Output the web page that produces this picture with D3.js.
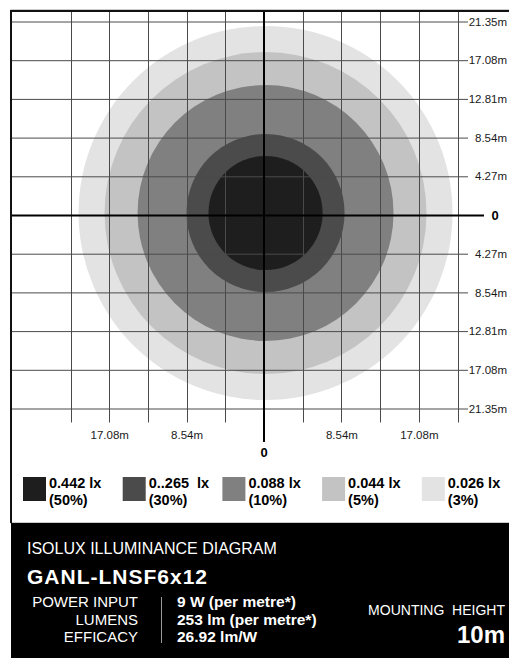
<!DOCTYPE html>
<html><head><meta charset="utf-8">
<script src="https://cdn.jsdelivr.net/npm/d3@7"></script>
<style>
html,body{margin:0;padding:0;background:#fff;}
svg{display:block;font-family:Arial,"Liberation Sans",Helvetica,sans-serif;}
</style></head>
<body>
<svg id="c" width="509" height="658"></svg>
<script>
// ---- data ----
const gridValues = [-21.35,-17.08,-12.81,-8.54,-4.27,0,4.27,8.54,12.81,17.08,21.35];
const yTickValues = [21.35,17.08,12.81,8.54,4.27,0,-4.27,-8.54,-12.81,-17.08,-21.35];
const yTickLabels = ["21.35m","17.08m","12.81m","8.54m","4.27m","0","4.27m","8.54m","12.81m","17.08m","21.35m"];
const xTickValues = [-17.08,-8.54,8.54,17.08];
const xTickLabels = ["17.08m","8.54m","8.54m","17.08m"];
const luxLabels = ["0.442 lx","0..265  lx","0.088 lx","0.044 lx","0.026 lx"];
const percentLabels = ["(50%)","(30%)","(10%)","(5%)","(3%)"];
const ringRadii = [6.3, 8.72, 14.12, 17.76, 20.63];   // metres
const ringColors = ["#1e1e1e","#4b4b4b","#808080","#c3c3c3","#e3e3e3"];
const ringCenter = [0.17, 0.22];
const title = "ISOLUX ILLUMINANCE DIAGRAM";
const model = "GANL-LNSF6x12";
const specNames = ["POWER INPUT","LUMENS","EFFICACY"];
const specValues = ["9 W (per metre*)","253 lm (per metre*)","26.92 lm/W"];
const mountLabel = "MOUNTING HEIGHT";
const mountValue = "10m";

// ---- drawing ----
const svg = d3.select("#c");
const x = d3.scaleLinear().domain([-21.35,21.35]).range([70.5,457.5]);
const y = d3.scaleLinear().domain([21.35,-21.35]).range([21.5,408.5]);
const frameL = 11, frameT = 10, panelT = 523;

// frame
svg.append("rect").attr("x",frameL).attr("y",frameT).attr("width",509-frameL+2).attr("height",panelT-frameT)
  .attr("fill","#fff").attr("stroke","#999").attr("stroke-width",1);

// rings (largest first)
const rings = ringRadii.map((r,i)=>({r, c:ringColors[i]})).reverse();
svg.append("g").selectAll("circle").data(rings).join("circle")
  .attr("cx", x(ringCenter[0])).attr("cy", y(ringCenter[1]))
  .attr("r", d => x(d.r) - x(0))
  .attr("fill", d => d.c);

// vertical grid lines
svg.append("g").selectAll("line").data(gridValues.filter(v=>v!==0)).join("line")
  .attr("x1",d=>Math.round(x(d))+0.5).attr("x2",d=>Math.round(x(d))+0.5)
  .attr("y1",frameT).attr("y2",422.5)
  .attr("stroke","#4a4a4a").attr("stroke-width",1);

// horizontal grid lines + right labels via axis
const yAxis = d3.axisRight(y).tickValues(yTickValues).tickSize(468-frameL)
  .tickFormat((d,i)=>yTickLabels[i]);
const gy = svg.append("g").attr("transform",`translate(${frameL},0)`).call(yAxis);
gy.select(".domain").remove();
gy.selectAll(".tick line").attr("stroke","#4a4a4a");
gy.selectAll(".tick text").attr("x",507-frameL).attr("text-anchor","end")
  .attr("font-size",11.5).attr("fill","#1a1a1a").attr("font-family","Arial,'Liberation Sans',sans-serif");
gy.selectAll(".tick").filter(d=>d===0).select("line").attr("x2",484-frameL).attr("stroke","#000").attr("stroke-width",2);
gy.selectAll(".tick").filter(d=>d===0).select("text").attr("x",495-frameL).attr("text-anchor","middle")
  .attr("font-weight","bold").attr("font-size",13).attr("fill","#000");

// center vertical line
svg.append("line").attr("x1",x(0)).attr("x2",x(0)).attr("y1",frameT).attr("y2",442)
  .attr("stroke","#000").attr("stroke-width",2);

// bottom labels via axis
const xAxis = d3.axisBottom(x).tickValues(xTickValues).tickSize(0).tickFormat((d,i)=>xTickLabels[i]);
const gx = svg.append("g").attr("transform","translate(0,439)").call(xAxis);
gx.select(".domain").remove();
gx.selectAll(".tick text").attr("font-size",11.5).attr("fill","#1a1a1a").attr("dy",null).attr("y",0)
  .attr("font-family","Arial,'Liberation Sans',sans-serif");
svg.append("text").attr("x",x(0)).attr("y",457).attr("text-anchor","middle")
  .attr("font-weight","bold").attr("font-size",13).text("0");

// frame left/top dark borders
svg.append("line").attr("x1",frameL).attr("x2",frameL).attr("y1",frameT).attr("y2",panelT).attr("stroke","#111").attr("stroke-width",2);
svg.append("line").attr("x1",frameL).attr("x2",509).attr("y1",frameT+1).attr("y2",frameT+1).attr("stroke","#111").attr("stroke-width",2);

// legend
const lg = svg.append("g").selectAll("g").data(luxLabels).join("g")
  .attr("transform",(d,i)=>`translate(${23+i*99.7},477)`);
lg.append("rect").attr("width",23).attr("height",24).attr("fill",(d,i)=>ringColors[i]);
lg.append("text").attr("x",26).attr("y",10.5).attr("font-weight","bold").attr("font-size",14.5)
  .attr("xml:space","preserve").style("white-space","pre").text(d=>d);
lg.append("text").attr("x",26).attr("y",28).attr("font-weight","bold").attr("font-size",14.5)
  .text((d,i)=>percentLabels[i]);

// info panel
svg.append("rect").attr("x",frameL).attr("y",panelT).attr("width",509-frameL).attr("height",658-panelT).attr("fill","#000");
svg.append("text").attr("x",27).attr("y",554).attr("fill","#fff").attr("font-size",16).text(title);
svg.append("text").attr("x",27).attr("y",583.5).attr("fill","#fff").attr("font-size",21).attr("font-weight","bold")
  .attr("letter-spacing",1).text(model);
svg.append("g").selectAll("text").data(specNames).join("text")
  .attr("x",138).attr("y",(d,i)=>607+i*17.5).attr("text-anchor","end").attr("fill","#fff").attr("font-size",15).text(d=>d);
svg.append("line").attr("x1",161.5).attr("x2",161.5).attr("y1",597).attr("y2",643).attr("stroke","#999").attr("stroke-width",1);
svg.append("g").selectAll("text").data(specValues).join("text")
  .attr("x",177).attr("y",(d,i)=>607+i*17.5).attr("fill","#fff").attr("font-size",15.5).attr("font-weight","bold").text(d=>d);
svg.append("text").attr("x",505).attr("y",615).attr("text-anchor","end").attr("fill","#fff").attr("font-size",14)
  .attr("xml:space","preserve").style("white-space","pre").text(mountLabel.replace(" ","  "));
svg.append("text").attr("x",505).attr("y",643).attr("text-anchor","end").attr("fill","#fff").attr("font-size",24)
  .attr("font-weight","bold").text(mountValue);
</script>
</body></html>
